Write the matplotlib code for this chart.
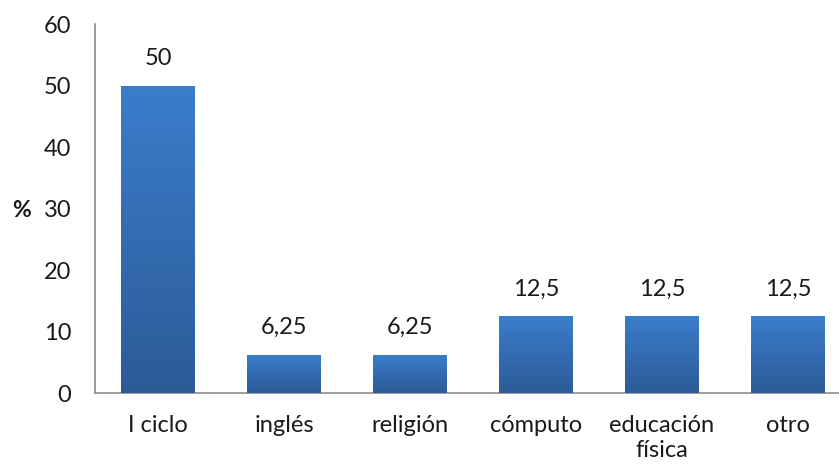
import numpy as np
import matplotlib.pyplot as plt
from matplotlib.colors import LinearSegmentedColormap

plt.rcParams['font.family'] = ['Lato', 'DejaVu Sans']

categorias = ['I ciclo', 'inglés', 'religión', 'cómputo', 'educación\nfísica', 'otro']
porcentajes = [50, 6.25, 6.25, 12.5, 12.5, 12.5]
etiquetas = ['50', '6,25', '6,25', '12,5', '12,5', '12,5']

fig = plt.figure(figsize=(8.39, 4.70), dpi=100)
ax = fig.add_axes([0.1132, 0.1638, 0.9011, 0.7851])

x = np.arange(len(categorias))
bars = ax.bar(x, porcentajes, width=0.58, color='#3570b8', edgecolor='none', zorder=2)

# degradado vertical en cada barra (claro arriba, oscuro abajo)
cmap = LinearSegmentedColormap.from_list('azul', ['#2c5b97', '#3b7dcc'])
grad = np.linspace(0, 1, 256).reshape(-1, 1)
for b in bars:
    x0, w, h = b.get_x(), b.get_width(), b.get_height()
    im = ax.imshow(grad, cmap=cmap, origin='lower', aspect='auto',
                   extent=[x0, x0 + w, 0, h], zorder=3)
    im.set_clip_path(b)

for xi, v, t in zip(x, porcentajes, etiquetas):
    ax.annotate(t, (xi, v), xytext=(0, 12), textcoords='offset points',
                ha='center', va='bottom', fontsize=17, color='#1a1a1a')

ax.set_xlim(-0.5, len(categorias) - 0.5)
ax.set_ylim(0, 60)
ax.set_yticks(range(0, 61, 10))
ax.set_xticks(x)
ax.set_xticklabels(categorias, fontsize=17, color='#1a1a1a', linespacing=1.25)
ax.tick_params(axis='y', length=0, pad=17, labelsize=17, labelcolor='#1a1a1a')
ax.tick_params(axis='x', length=0, pad=16)
for lado in ['top', 'right']:
    ax.spines[lado].set_visible(False)
for lado in ['left', 'bottom']:
    ax.spines[lado].set_color('#8c8c8c')
    ax.spines[lado].set_linewidth(1.2)

fig.text(12 / 839, 1 - 211 / 470, '%', fontsize=16.5, fontweight='bold',
         ha='left', va='center', color='#1a1a1a')

fig.savefig('out.png', dpi=100)
